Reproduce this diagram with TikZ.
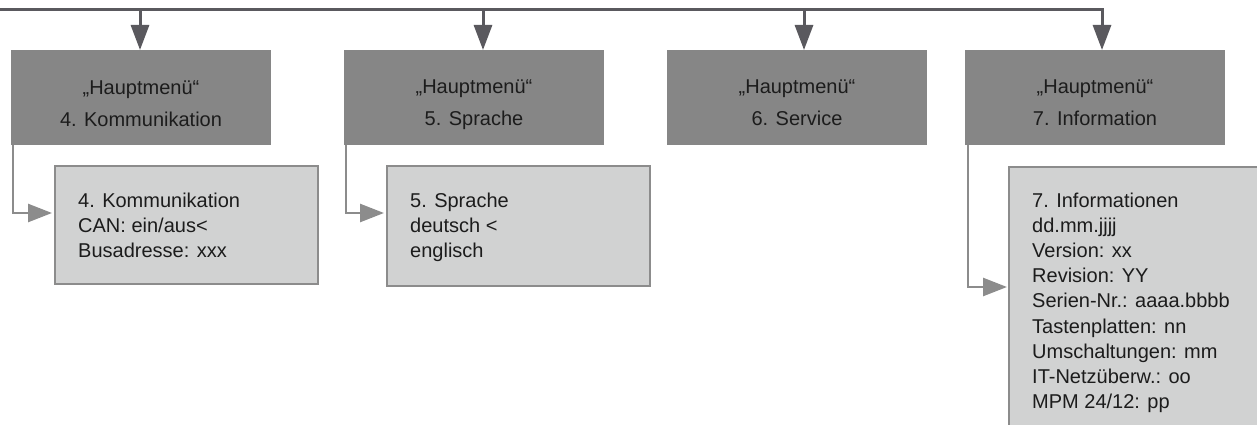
\documentclass[tikz,border=0pt]{standalone}
\usepackage{fontspec}
\setmainfont{Liberation Sans}
\usetikzlibrary{arrows.meta}
\definecolor{darkbox}{HTML}{868686}
\definecolor{lightbox}{HTML}{D1D2D2}
\definecolor{lightedge}{HTML}{8C8C8C}
\definecolor{busline}{HTML}{5A595E}
\definecolor{txt}{HTML}{1C1C1C}
\tikzset{
  menubox/.style={fill=darkbox, draw=none, inner sep=0pt, minimum width=260pt, minimum height=95pt, anchor=north west},
  subbox/.style={fill=lightbox, draw=lightedge, line width=2pt, inner sep=0pt, anchor=north west},
  menutext/.style={inner sep=0pt, anchor=base, align=center, text=txt, font=\fontsize{20}{32}\selectfont},
  subtext/.style={inner sep=0pt, anchor=base west, align=left, text=txt, font=\fontsize{20}{25.2}\selectfont},
  bus/.style={draw=busline, line width=3pt},
  busarrow/.style={draw=busline, line width=3pt, -{Triangle[length=25pt, width=18pt]}},
  conn/.style={draw=lightedge, line width=2.6pt, -{Triangle[length=24pt, width=18pt]}}
}
\begin{document}
\begin{tikzpicture}[x=1pt, y=-1pt]
\useasboundingbox (0,0) rectangle (1257,425);
% menu boxes
\node[menubox] (m4) at (11,50) {};
\node[menubox] (m5) at (344,50) {};
\node[menubox] (m6) at (667,50) {};
\node[menubox] (m7) at (965,50) {};
% base anchor = baseline of the last line
\node[menutext] (t4) at (141,126) {„Hauptmenü“\\4. Kommunikation};
\node[menutext] (t5) at (474,125) {„Hauptmenü“\\5. Sprache};
\node[menutext] (t6) at (797,125) {„Hauptmenü“\\6. Service};
\node[menutext] (t7) at (1095,125) {„Hauptmenü“\\7. Information};
% bus
\coordinate (bus0) at (0,10);
\coordinate (tap4) at (140,10);
\coordinate (tap5) at (483,10);
\coordinate (tap6) at (804,10);
\coordinate (tap7) at (1102,10);
\draw[bus] (bus0) -- (tap7);
\draw[busarrow] (tap4) -- (tap4 |- m4.north);
\draw[busarrow] (tap5) -- (tap5 |- m5.north);
\draw[busarrow] (tap6) -- (tap6 |- m6.north);
\draw[busarrow] ([yshift=1.5pt]tap7) -- (tap7 |- m7.north);
% sub boxes
\node[subbox, minimum width=263pt, minimum height=118pt] (s4) at (54,165) {};
\node[subbox, minimum width=263pt, minimum height=120pt] (s5) at (386,165) {};
\node[subbox, minimum width=262pt, minimum height=300pt] (s7) at (1008,166) {};
\node[subtext] (u4) at (78,257.4) {4. Kommunikation\\CAN: ein/aus<\\Busadresse: xxx};
\node[subtext] (u5) at (410,257.4) {5. Sprache\\deutsch <\\englisch};
\node[subtext] (u7) at (1032,408.6) {7. Informationen\\dd.mm.jjjj\\Version: xx\\Revision: YY\\Serien-Nr.: aaaa.bbbb\\Tastenplatten: nn\\Umschaltungen: mm\\IT-Netzüberw.: oo\\MPM 24/12: pp};
% connectors
\draw[conn] ([xshift=2pt]m4.south west) |- ([xshift=-2pt, yshift=-48pt]s4.north west);
\draw[conn] ([xshift=2pt]m5.south west) |- ([xshift=-2pt, yshift=-48pt]s5.north west);
\draw[conn] ([xshift=3pt]m7.south west) |- ([xshift=-1pt, yshift=-121pt]s7.north west);
\end{tikzpicture}
\end{document}
